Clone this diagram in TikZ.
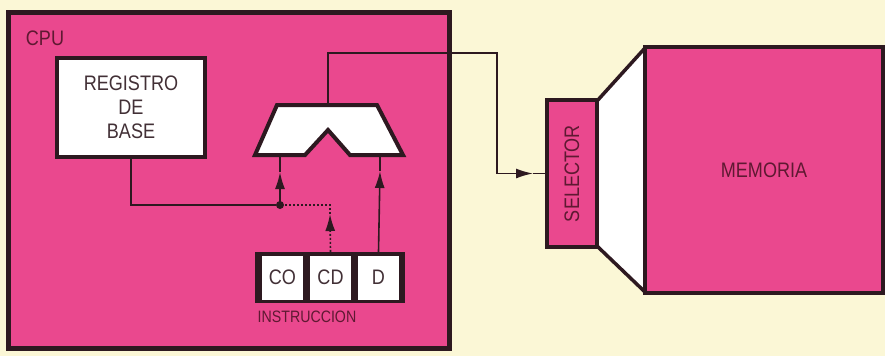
\documentclass[tikz,border=0pt]{standalone}
\usepackage{fontspec}
\setmainfont[FakeStretch=0.86]{Liberation Sans}
\usetikzlibrary{arrows.meta}
\definecolor{cpupink}{RGB}{234,72,142}
\definecolor{paper}{RGB}{251,247,214}
\definecolor{ink}{RGB}{45,25,32}
\definecolor{labelred}{RGB}{95,25,50}

\begin{document}
\begin{tikzpicture}[x=1pt, y=-1pt,
	txt/.style={font=\fontsize{21}{24}\selectfont, text=ink!90},
	block/.style={draw=ink, line width=4pt, fill=white, inner sep=0pt, txt, align=center},
	pinkblock/.style={draw=ink, line width=3.5pt, fill=cpupink, inner sep=0pt, txt, text=labelred},
	field/.style={fill=white, minimum width=41pt, minimum height=44pt, inner sep=0pt, txt},
	wire/.style={draw=ink, line width=1.6pt},
	dots/.style={wire, dash pattern=on 2pt off 2pt},
	tip/.style={-{Latex[length=17pt,width=10pt]}}]

	% background and frame
	\useasboundingbox[fill=paper] (0,0) rectangle (885,356);
	\node (cpu) at (228.5,180) [draw=ink, line width=5pt, fill=cpupink, minimum width=441pt, minimum height=336pt] {};
	\node (cpulabel) at (45,38) [txt, text=labelred] {CPU};

	% Registro de base
	\node (registro) at (131,107.5) [block, minimum width=148pt, minimum height=99pt] {REGISTRO\\DE\\BASE};

	% ALU
	\draw[draw=ink, line width=4pt, fill=white, line join=miter]
		(255,155) -- (277,105) -- (377,105) -- (403,155) -- (350,155) -- (328,130) -- (305,155) -- cycle;
	\coordinate (aluout) at (328,105);
	\coordinate (alul) at (280,155);
	\coordinate (alur) at (380,155);

	% Instruccion
	\node (instr) at (330,277.5) [fill=ink, minimum width=150pt, minimum height=51pt] {};
	\node (co) at (282.5,277.5) [field] {CO};
	\node (cd) at (330.5,277.5) [field] {CD};
	\node (d) at (378.5,277.5) [field] {D};
	\node (instrlabel) at (307,317) [font=\fontsize{16.5}{18}\selectfont, text=labelred] {INSTRUCCION};

	% Selector and memory
	\draw[draw=ink, line width=3.5pt, fill=white, line join=round] (597,101) -- (645,48) -- (645,292) -- (597,246) -- cycle;
	\node (memoria) at (764,170) [pinkblock, minimum width=238pt, minimum height=246pt] {MEMORIA};
	\node (selector) at (572,173.5) [pinkblock, minimum width=50pt, minimum height=147pt] {};
	\node (selectorlabel) at (selector.center) [txt, text=labelred, rotate=90] {SELECTOR};

	% connections
	\coordinate (bend) at (497,53);
	\coordinate (tipl) at (280,172);
	\coordinate (tipr) at (380,171);
	\coordinate (tipcd) at (330,214);
	\coordinate (tipsel) at (533,173.5);
	\node (dot) at (280,205) [circle, fill=ink, inner sep=0pt, minimum size=8pt] {};
	\draw[wire] (registro.south) |- (dot);
	\draw[wire, tip] (dot.center) -- (tipl);
	\draw[wire] (tipl) -- (alul);
	\draw[dots, tip] (cd.north |- instr.north) -- (tipcd);
	\draw[dots] (tipcd) |- (dot.center);
	\draw[wire, tip] (d.north |- instr.north) -- (tipr);
	\draw[wire] (tipr) -- (alur);
	\draw[wire, tip] (aluout) |- (bend) |- (tipsel);
	\draw[wire] (tipsel) -- (selector.west);
\end{tikzpicture}
\end{document}
